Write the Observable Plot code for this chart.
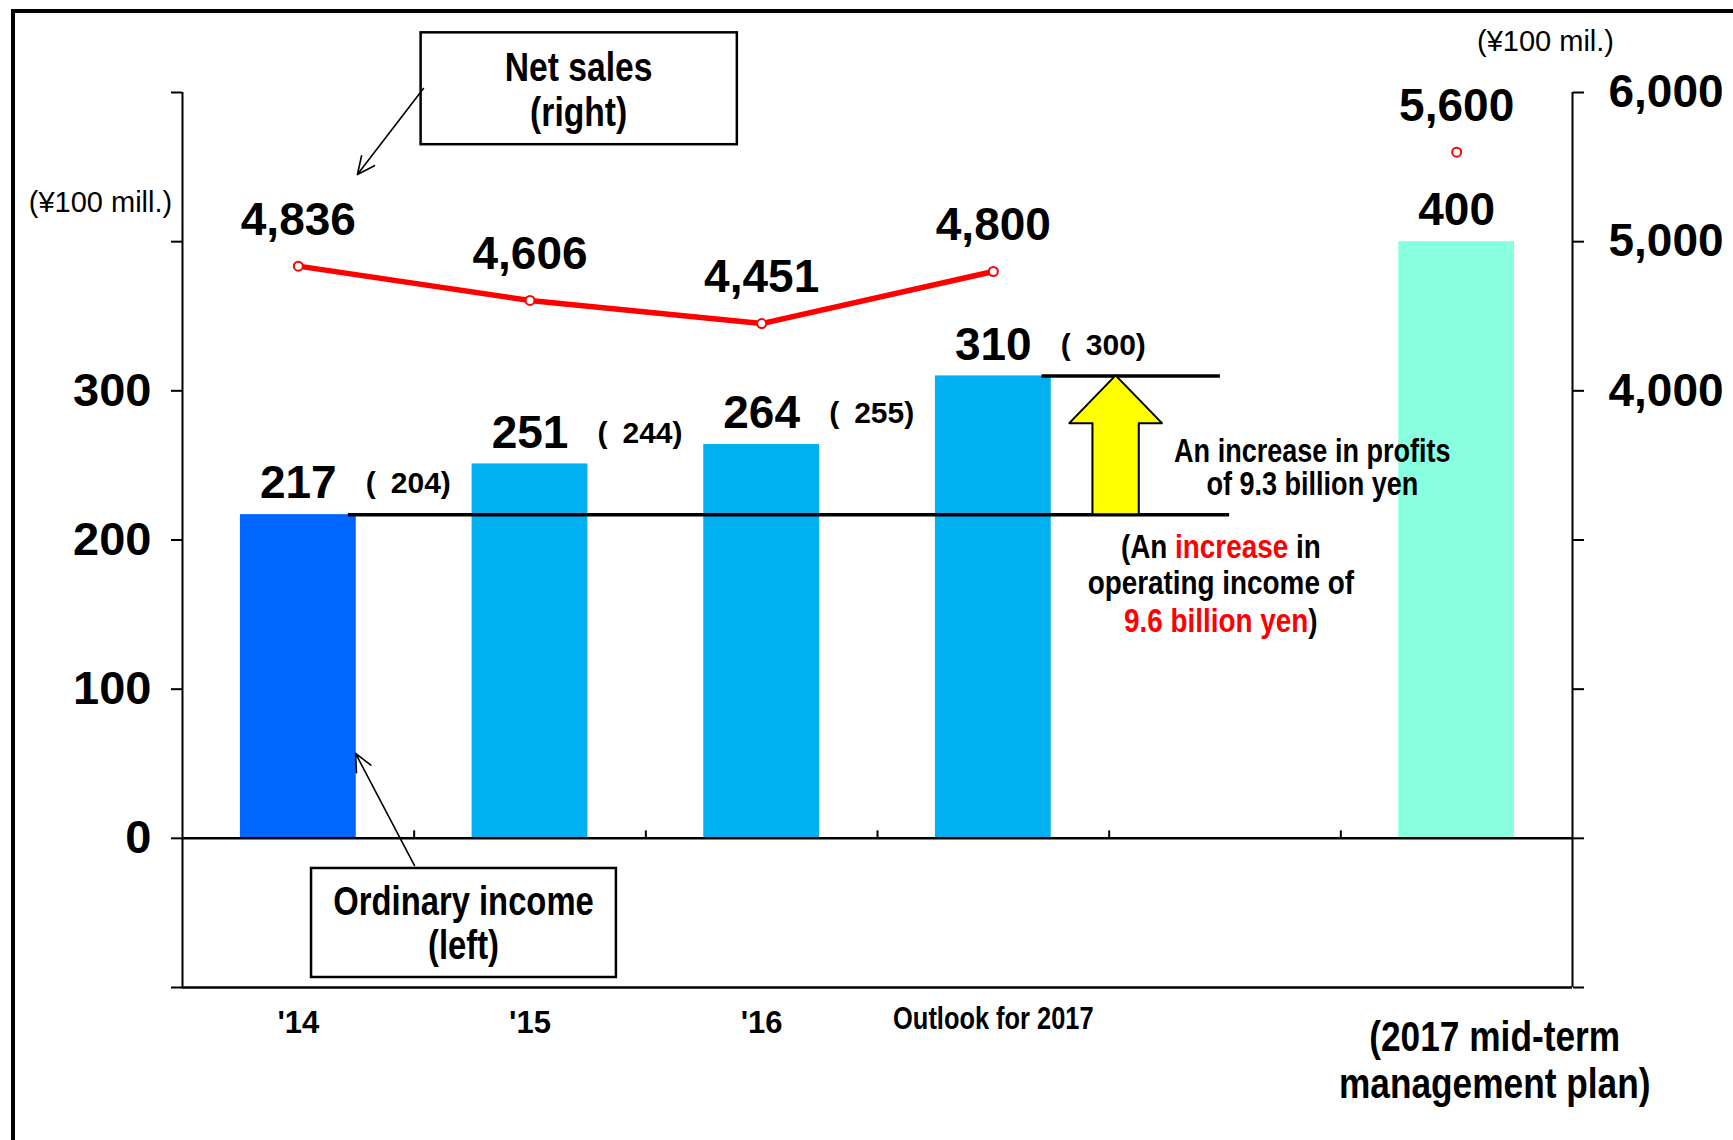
<!DOCTYPE html>
<html><head><meta charset="utf-8">
<script src="https://cdn.jsdelivr.net/npm/d3@7"></script>
<script src="https://cdn.jsdelivr.net/npm/@observablehq/plot@0.6"></script>
<style>
html,body{margin:0;padding:0;background:#fff;}
#wrap{position:relative;width:1733px;height:1140px;overflow:hidden;background:#fff;}
#wrap svg{position:absolute;left:0;top:0;}
#frame{position:absolute;left:11px;top:9px;width:1800px;height:1200px;border-left:4px solid #000;border-top:4px solid #000;pointer-events:none;z-index:5;}
</style></head><body><div id="wrap"></div>
<script>
// ---- data ----
const categories = ["'14", "'15", "'16", "Outlook for 2017", "", "(2017 mid-term\nmanagement plan)"];
const ordinaryIncome = [217, 251, 264, 310, null, 400];      // left axis, ¥100 mill.
const operatingIncome = [204, 244, 255, 300, null, null];    // values in parentheses
const netSales = [4836, 4606, 4451, 4800, null, 5600];       // right axis, ¥100 mill.
const barKinds = ["2014", "actual", "actual", "outlook", null, "plan"];
const leftTicks = [-100, 0, 100, 200, 300, 400, 500];
const leftLabelled = [0, 100, 200, 300];
const rightTicks = [0, 1000, 2000, 3000, 4000, 5000, 6000];
const rightLabelled = [4000, 5000, 6000];

// left domain [-100, 500] ↔ right domain [0, 6000]
const salesToY = s => (s - 1000) / 10;
const yToSales = y => y * 10 + 1000;

const NUM = "'Liberation Sans', Arial, sans-serif";
const CONDENSE = 0.82; // horizontal squeeze for the narrow lettering of the labels
const COND = {fontStyle: "normal"}; // marker for the condensed text marks

const rows = categories.map((c, i) => ({
  i, c, v: ordinaryIncome[i], op: operatingIncome[i], s: netSales[i], kind: barKinds[i]
}));
const bars = rows.filter(d => d.v != null);
const opRows = rows.filter(d => d.op != null);
const sales = rows.filter(d => d.s != null).map(d => ({...d, ys: salesToY(d.s)}));
const salesLine = sales.filter(d => d.kind !== "plan");
const boundaries = [0, 1, 2, 3, 4].map(i => i + 0.5);

const base = ordinaryIncome[0], target = ordinaryIncome[3];
const arrowHeadBase = 278;
const arrowPts = [
  {y: base, x1: 3.43, x2: 3.63},
  {y: arrowHeadBase, x1: 3.43, x2: 3.63},
  {y: arrowHeadBase, x1: 3.33, x2: 3.73},
  {y: target, x1: 3.53, x2: 3.53}
];

const plot = Plot.plot({
  width: 1733,
  height: 1140,
  marginLeft: 182,
  marginRight: 161,
  marginTop: 92,
  marginBottom: 153,
  style: {fontFamily: NUM, background: "transparent", color: "#000"},
  x: {type: "linear", domain: [-0.5, 5.5], axis: null},
  y: {domain: [-100, 500], axis: null},
  color: {domain: ["2014", "actual", "outlook", "plan"], range: ["#0066FF", "#00B0F0", "#00B0F0", "#88FFDF"]},
  marks: [
    // bars
    Plot.rectY(bars, {x1: d => d.i - 0.25, x2: d => d.i + 0.25, y: "v", fill: "kind"}),
    // axes lines
    Plot.ruleX([-0.5, 5.5], {y1: -100, y2: 500, stroke: "#000", strokeWidth: 2}),
    Plot.ruleY([0, -100], {x1: -0.5, x2: 5.5, stroke: "#000", strokeWidth: 2.5}),
    Plot.ruleX(boundaries, {y1: 0, y2: 5, stroke: "#000", strokeWidth: 2}),
    Plot.axisY(leftTicks, {anchor: "left", tickSize: 11, tickPadding: 20, strokeWidth: 2,
      tickFormat: d => leftLabelled.includes(d) ? String(d) : "", fontSize: 47, fontWeight: "bold"}),
    Plot.axisY(rightTicks.map(salesToY), {anchor: "right", tickSize: 11, tickPadding: 25, strokeWidth: 2,
      tickFormat: d => rightLabelled.includes(yToSales(d)) ? d3.format(",")(yToSales(d)) : "",
      textAnchor: "start", fontSize: 46, fontWeight: "bold"}),
    // comparison lines and arrow
    Plot.ruleY([base], {x1: 0.216, x2: 4.02, stroke: "#000", strokeWidth: 3.5}),
    Plot.ruleY([target], {x1: 3.21, x2: 3.98, stroke: "#000", strokeWidth: 3.5}),
    Plot.areaX(arrowPts, {y: "y", x1: "x1", x2: "x2", fill: "#FFFF00", stroke: "#000", strokeWidth: 2, curve: "linear"}),
    // net sales
    Plot.line(salesLine, {x: "i", y: "ys", stroke: "#FF0000", strokeWidth: 5.5}),
    Plot.dot(sales, {x: "i", y: "ys", r: 4.5, fill: "#fff", stroke: "#FF0000", strokeWidth: 2}),
    Plot.text(sales, {x: "i", y: "ys", text: d => d3.format(",")(d.s), dy: -46, fontSize: 46, fontWeight: "bold"}),
    // bar labels
    Plot.text(bars, {x: "i", y: "v", text: d => String(d.v), dy: -31, fontSize: 46, fontWeight: "bold"}),
    Plot.text(opRows, {x: "i", y: "v", text: d => `(\u2002${d.op})`, dx: 110, dy: -31, fontSize: 30, fontWeight: "bold"}),
    // x labels
    Plot.text(rows.filter(d => d.i <= 2), {x: "i", y: -100, text: "c", dy: 36, fontSize: 31, fontWeight: "bold", letterSpacing: 1.5}),
    Plot.text(rows.filter(d => d.i === 3), {x: "i", y: -100, text: "c", dy: 32, fontSize: 31, fontWeight: "bold", ...COND}),
    Plot.text(rows.filter(d => d.i === 5), {x: "i", y: -100, text: "c", dx: 38, dy: 30, lineAnchor: "top", lineHeight: 1.1, fontSize: 43, fontWeight: "bold", ...COND}),
    // unit labels
    Plot.text(["(¥100 mill.)"], {frameAnchor: "top-left", textAnchor: "middle", lineAnchor: "middle", dx: -82, dy: 110, text: d => d, fontSize: 29}),
    Plot.text(["(¥100 mil.)"], {frameAnchor: "top-right", textAnchor: "middle", lineAnchor: "middle", dx: -27, dy: -51, text: d => d, fontSize: 29}),
    // callout boxes
    Plot.rect([0], {x1: 0.53, x2: 1.895, y1: 465, y2: 540, fill: "#fff", stroke: "#000", strokeWidth: 2.5}),
    Plot.text(["Net sales\n(right)"], {x: 1.21, y: 502.3, text: d => d, fontSize: 41, lineHeight: 1.1, fontWeight: "bold", ...COND}),
    Plot.arrow([0], {x1: 0.54, y1: 502.7, x2: 0.255, y2: 445, stroke: "#000", strokeWidth: 1.6, headLength: 18, headAngle: 50}),
    Plot.rect([0], {x1: 0.057, x2: 1.373, y1: -93.3, y2: -20.2, fill: "#fff", stroke: "#000", strokeWidth: 2.5}),
    Plot.text(["Ordinary income\n(left)"], {x: 0.713, y: -57, text: d => d, fontSize: 40, lineHeight: 1.1, fontWeight: "bold", ...COND}),
    Plot.arrow([0], {x1: 0.501, y1: -18.2, x2: 0.247, y2: 56.9, stroke: "#000", strokeWidth: 1.6, headLength: 18, headAngle: 50}),
    // profit increase annotation
    Plot.text(["An increase in profits\nof 9.3 billion yen"], {x: 4.377, y: 248.3, text: d => d, fontSize: 33, lineHeight: 1.0, fontWeight: "bold", ...COND})
  ]
});

const svg = d3.select(plot);
// squeeze the narrow label lettering horizontally around each text's anchor
svg.selectAll('g[font-style="normal"] text').each(function () {
  const t = this.getAttribute("transform");
  if (t) {
    this.setAttribute("transform", `${t} scale(${CONDENSE},1)`);
  } else {
    const x = +this.getAttribute("x") || 0, y = +this.getAttribute("y") || 0;
    this.setAttribute("x", 0); this.setAttribute("y", 0);
    this.setAttribute("transform", `translate(${x},${y}) scale(${CONDENSE},1)`);
  }
});

// rich-text annotation (mixed colours) placed with the plot's scales
const sx = plot.scale("x"), sy = plot.scale("y");
const lines = [
  {y: 195.6, parts: [["(An ", "#000"], ["increase", "#FF0000"], [" in", "#000"]]},
  {y: 171.5, parts: [["operating income of", "#000"]]},
  {y: 146.0, parts: [["9.6 billion yen", "#FF0000"], [")", "#000"]]}
];
const g = svg.append("g").attr("font-family", NUM).attr("font-size", 34).attr("font-weight", "bold").attr("text-anchor", "middle");
lines.forEach(l => {
  const t = g.append("text")
    .attr("transform", `translate(${sx.apply(3.984)},${sy.apply(l.y)}) scale(${CONDENSE},1)`)
    .attr("dy", "0.35em");
  l.parts.forEach(([s, c]) => t.append("tspan").attr("fill", c).text(s));
});

const wrap = document.getElementById("wrap");
wrap.appendChild(plot);
const frame = document.createElement("div");
frame.id = "frame";
wrap.appendChild(frame);
</script>
</body></html>
